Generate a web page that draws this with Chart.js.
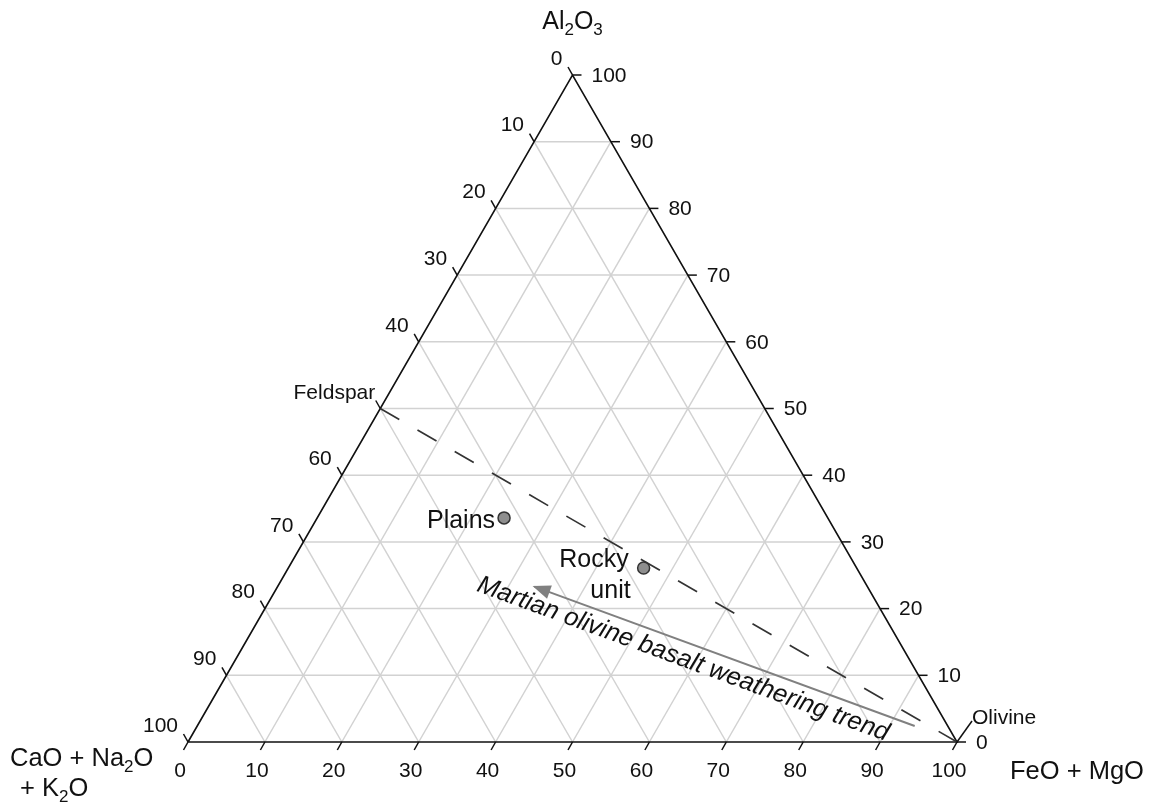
<!DOCTYPE html>
<html>
<head>
<meta charset="utf-8">
<script src="https://cdn.jsdelivr.net/npm/chart.js@4"></script>
<style>
  body{ margin:0; background:#fff; }
  #wrap{ width:1150px; height:803px; }
</style>
</head>
<body>
<div id="wrap"><canvas id="chart" width="1150" height="803"></canvas></div>
<script>
// Data (ternary %: FeO+MgO, Al2O3; CaO+Na2O+K2O is the rest)
const tickValues = [0,10,20,30,40,50,60,70,80,90,100];
const bottomLabels = ['0','10','20','30','40','50','60','70','80','90','100'];      // FeO + MgO
const rightLabels = ['0','10','20','30','40','50','60','70','80','90','100'];       // Al2O3
const leftLabels = ['0','10','20','30','40','Feldspar','60','70','80','90','100'];  // CaO + Na2O + K2O

const sampleNames = ['Plains', 'Rocky unit'];
const sampleFeoMgo = [24.3, 46.2];
const sampleAl2o3 = [33.6, 26.1];

const endNames = ['Feldspar', 'Olivine'];
const endFeoMgo = [0, 100];
const endAl2o3 = [50, 0];

const trendLabel = 'Martian olivine basalt weathering trend';
const trendFeoMgo = [93.3, 33.4];
const trendAl2o3 = [2.4, 23.3];

const SQ3 = Math.sqrt(3);
const FONT = '"Liberation Sans", Arial, sans-serif';

// ternary -> cartesian in chart units (side = 100)
function tern(a, b){ return { x: a + b/2, y: b*SQ3/2 }; }

function gridDatasets(){
  const sets = [];
  tickValues.slice(1,-1).forEach(k=>{
    sets.push([tern(k,0), tern(k,100-k)]);        // const FeO+MgO
    sets.push([tern(0,k), tern(100-k,k)]);        // const Al2O3
    sets.push([tern(100-k,0), tern(0,100-k)]);    // const CaO+...
  });
  return sets.map(d=>({ data:d, showLine:true, borderColor:'#d2d2d2', borderWidth:1.5, pointRadius:0, clip:false, order:5 }));
}

const datasets = gridDatasets();
datasets.push({ // triangle frame
  data:[tern(0,0), tern(100,0), tern(0,100), tern(0,0)], showLine:true,
  borderColor:'#111', borderWidth:1.6, pointRadius:0, clip:false, order:4
});
datasets.push({ // feldspar - olivine join
  data: endFeoMgo.map((a,i)=>tern(a,endAl2o3[i])), showLine:true,
  borderColor:'#333', borderWidth:1.7, borderDash:[22,21], pointRadius:0, clip:false, order:3
});
datasets.push({ // weathering trend
  id:'trend',
  data: trendFeoMgo.map((a,i)=>tern(a,trendAl2o3[i])), showLine:true,
  borderColor:'#808080', borderWidth:2, pointRadius:0, clip:false, order:2
});
datasets.push({ // samples
  data: sampleFeoMgo.map((a,i)=>tern(a,sampleAl2o3[i])),
  pointRadius:6, pointBackgroundColor:'#8e8e8e', pointBorderColor:'#333', pointBorderWidth:1.5,
  showLine:false, clip:false, order:1
});

// text with subscripts: parts = [[text, isSub], ...]
function richWidth(ctx, parts, size){
  let w = 0;
  parts.forEach(p=>{ ctx.font = (p[1]? Math.round(size*0.68) : size)+'px '+FONT; w += ctx.measureText(p[0]).width; });
  return w;
}
function drawRich(ctx, parts, x, y, size, align){
  let w = richWidth(ctx, parts, size);
  let cx = align==='center' ? x - w/2 : (align==='right' ? x - w : x);
  ctx.textAlign = 'left'; ctx.textBaseline = 'alphabetic';
  parts.forEach(p=>{
    ctx.font = (p[1]? Math.round(size*0.68) : size)+'px '+FONT;
    ctx.fillText(p[0], cx, p[1]? y + size*0.22 : y);
    cx += ctx.measureText(p[0]).width;
  });
}

const ternaryDecor = {
  id:'ternaryDecor',
  afterDatasetsDraw(chart){
    const ctx = chart.ctx, sx = chart.scales.x, sy = chart.scales.y;
    const px = p => [sx.getPixelForValue(p.x), sy.getPixelForValue(p.y)];
    ctx.save();
    ctx.strokeStyle = '#111'; ctx.lineWidth = 1.5; ctx.fillStyle = '#111';

    // bottom axis: FeO + MgO
    tickValues.forEach((v,i)=>{
      const [x,y] = px(tern(v,0));
      ctx.beginPath(); ctx.moveTo(x,y); ctx.lineTo(x-4.5,y+8); ctx.stroke();
      ctx.font = '21px '+FONT; ctx.textAlign='center'; ctx.textBaseline='middle';
      ctx.fillText(bottomLabels[i], x-8, y+29);
    });
    // right axis: Al2O3
    tickValues.forEach((v,i)=>{
      const [x,y] = px(tern(100-v,v));
      ctx.beginPath(); ctx.moveTo(x,y); ctx.lineTo(x+9,y); ctx.stroke();
      ctx.font = '21px '+FONT; ctx.textAlign='left'; ctx.textBaseline='middle';
      ctx.fillText(rightLabels[i], x+19, y+1);
    });
    // left axis: CaO + Na2O + K2O
    tickValues.forEach((v,i)=>{
      const [x,y] = px(tern(0,100-v));
      ctx.beginPath(); ctx.moveTo(x,y); ctx.lineTo(x-4.5,y-8); ctx.stroke();
      const small = leftLabels[i]==='Feldspar';
      ctx.font = (small? '21px ' : '21px ')+FONT; ctx.textAlign='right'; ctx.textBaseline='middle';
      ctx.fillText(leftLabels[i], x-(small?5:10), y-(small?15:16));
    });

    // olivine leader + label
    const [ox,oy] = px(tern(endFeoMgo[1], endAl2o3[1]));
    ctx.beginPath(); ctx.moveTo(ox,oy); ctx.lineTo(ox+15,oy-21); ctx.stroke();
    ctx.font = '21px '+FONT; ctx.textAlign='left'; ctx.textBaseline='middle';
    ctx.fillText(endNames[1], ox+15, oy-24);

    // sample labels
    ctx.font = '25px '+FONT; ctx.textBaseline='middle';
    const [p1x,p1y] = px(tern(sampleFeoMgo[0], sampleAl2o3[0]));
    ctx.textAlign='right'; ctx.fillText(sampleNames[0].split(' ')[0], p1x-9, p1y+3);
    const [p2x,p2y] = px(tern(sampleFeoMgo[1], sampleAl2o3[1]));
    const rocky = sampleNames[1].split(' ');
    ctx.textAlign='right';
    ctx.fillText(rocky[0], p2x-15, p2y-8);
    ctx.fillText(rocky[1], p2x-13, p2y+23);

    // trend arrow head + label
    const meta = chart.getDatasetMeta(chart.data.datasets.findIndex(d=>d.id==='trend'));
    const a0 = meta.data[0], a1 = meta.data[1];
    const ang = Math.atan2(a1.y-a0.y, a1.x-a0.x);
    ctx.fillStyle = '#808080';
    ctx.save(); ctx.translate(a1.x, a1.y); ctx.rotate(ang);
    ctx.beginPath(); ctx.moveTo(2,0); ctx.lineTo(-16,-7); ctx.lineTo(-16,7); ctx.closePath(); ctx.fill();
    ctx.restore();
    const mx = (a0.x+a1.x)/2, my = (a0.y+a1.y)/2;
    ctx.save(); ctx.translate(mx, my); ctx.rotate(ang + Math.PI);
    ctx.fillStyle = '#111'; ctx.font = 'italic 25.5px '+FONT; ctx.textAlign='center'; ctx.textBaseline='middle';
    ctx.fillText(trendLabel, -38, 17);
    ctx.restore();

    // axis titles
    ctx.fillStyle = '#111';
    const [tx,ty] = px(tern(0,100));
    drawRich(ctx, [['Al',0],['2',1],['O',0],['3',1]], tx, ty-46, 25, 'center');
    const [lx,ly] = px(tern(0,0));
    drawRich(ctx, [['CaO + Na',0],['2',1],['O',0]], lx-178, ly+24, 25.5, 'left');
    drawRich(ctx, [['+ K',0],['2',1],['O',0]], lx-168, ly+54, 25.5, 'left');
    const [rx,ry] = px(tern(100,0));
    drawRich(ctx, [['FeO + MgO',0]], rx+53, ry+37, 25.5, 'left');
    ctx.restore();
  }
};

new Chart(document.getElementById('chart'), {
  type:'scatter',
  data:{ datasets },
  options:{
    responsive:false,
    animation:false,
    layout:{ padding:{ left:188, right:193, top:75, bottom:61 } },
    scales:{
      x:{ type:'linear', min:0, max:100, display:false },
      y:{ type:'linear', min:0, max:50*SQ3, display:false }
    },
    plugins:{ legend:{ display:false }, tooltip:{ enabled:false } }
  },
  plugins:[ternaryDecor]
});
</script>
</body>
</html>
